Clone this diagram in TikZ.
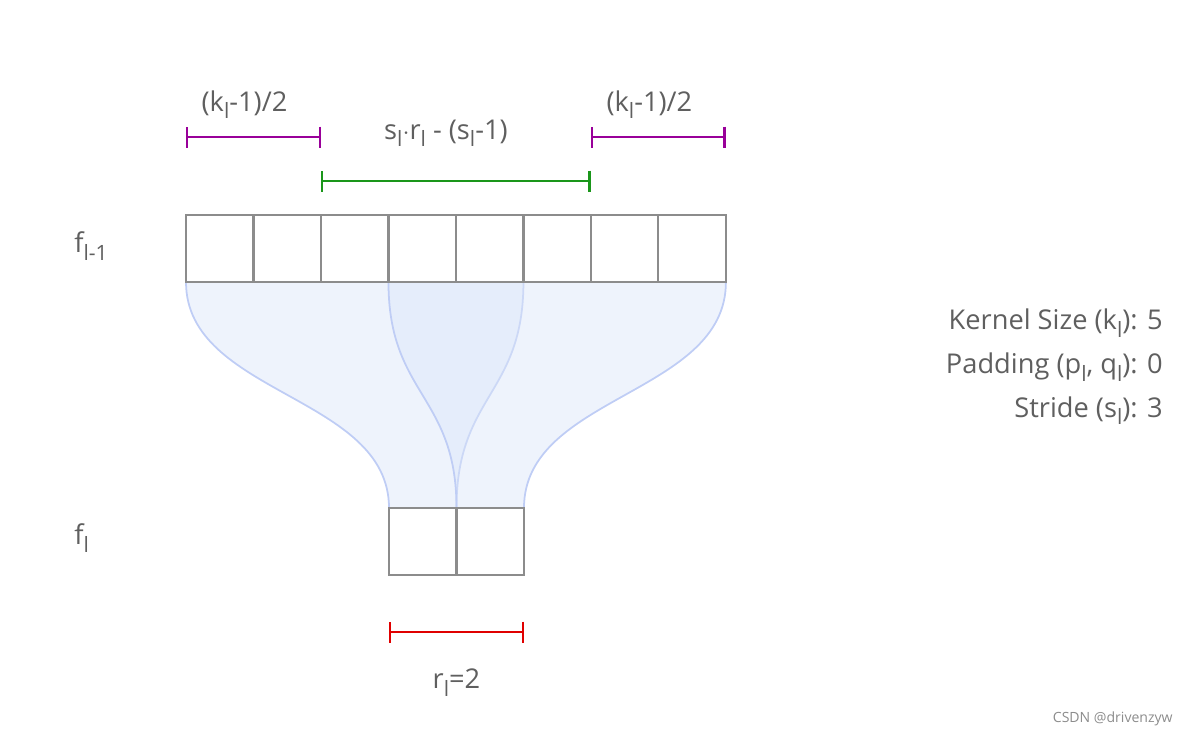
\documentclass[tikz,border=0pt]{standalone}
\usepackage{fontspec}
\setmainfont{Open Sans}
\usepackage{tikz}
\usetikzlibrary{arrows.meta,positioning,calc}
\usepackage{xcolor}
\definecolor{txtgrey}{HTML}{5F5F5F}
\definecolor{cellgrey}{HTML}{8C8C8C}
\definecolor{fieldfill}{RGB}{219,230,249}
\definecolor{fieldline}{HTML}{BFCDF5}
\definecolor{padcol}{HTML}{990099}
\definecolor{spancol}{HTML}{1A961A}
\definecolor{rcol}{HTML}{E00000}

% layer index as a lowered subscript
\newcommand{\lsub}[1]{\raisebox{-0.5ex}{\fontsize{12}{12}\selectfont #1}}

\tikzset{
    cell/.style={draw=cellgrey, fill=white, line width=1.2pt, minimum width=1.35cm,
        minimum height=1.34cm, inner sep=0pt, outer sep=0pt},
    field/.style={fill=fieldfill, fill opacity=0.47, draw=fieldline, line width=1pt},
    gauge/.style={line width=1.4pt, {Bar[width=0.42cm]}-{Bar[width=0.42cm]}},
    lbl/.style={text=txtgrey, inner sep=0pt, font=\fontsize{15.5}{18}\selectfont}
}

\begin{document}
\begin{tikzpicture}[x=0.02cm, y=-0.02cm]
    \useasboundingbox (0,0) rectangle (1189,735);

    % Input layer cells
    \node[cell] (c1) at (219.75,248.5) {};
    \foreach \i [remember=\i as \j (initially 1)] in {2,...,8} {
        \node[cell, right=0pt of c\j] (c\i) {};
    }

    % Output layer cells
    \node[cell] (b1) at (422.75,541.5) {};
    \node[cell, right=0pt of b1] (b2) {};

    % Receptive fields
    \filldraw[field] (c1.south west) .. controls +(0,113) and +(0,-113) .. (b1.north west)
        -- (b1.north east) .. controls +(0,-113) and +(0,113) .. (c5.south east) -- cycle;
    \filldraw[field] (c4.south west) .. controls +(0,113) and +(0,-113) .. (b2.north west)
        -- (b2.north east) .. controls +(0,-113) and +(0,113) .. (c8.south east) -- cycle;

    % Cell borders again, above the fields
    \foreach \i in {1,...,8} {
        \draw[cellgrey, line width=1.2pt] (c\i.north west) rectangle (c\i.south east);
    }
    \foreach \i in {1,2} {
        \draw[cellgrey, line width=1.2pt] (b\i.north west) rectangle (b\i.south east);
    }

    % Layer labels
    \node[lbl, anchor=west] (fin) at (74,246) {f\lsub{l-1}};
    \node[lbl, anchor=west] (fout) at (74,538) {f\lsub{l}};

    % Padding spans
    \draw[gauge, padcol] ($(c1.north west)+(0,-78)$) -- ($(c3.north west)+(0,-78)$)
        node[lbl, midway, above=0.34cm, xshift=-0.18cm] (padl) {(k\lsub{l}-1)/2};
    \draw[gauge, padcol] ($(c6.north east)+(0,-78)$) -- ($(c8.north east)+(0,-78)$)
        node[lbl, midway, above=0.34cm, xshift=-0.18cm] (padr) {(k\lsub{l}-1)/2};

    % Stride span
    \draw[gauge, spancol] ($(c3.north west)+(0,-34)$) -- ($(c6.north east)+(0,-34)$)
        node[lbl, midway, above=0.66cm, xshift=-0.2cm] (span) {s\lsub{l}$\cdot$r\lsub{l} - (s\lsub{l}-1)};

    % Output size
    \draw[gauge, rcol] ($(b1.south west)+(0,57)$) -- ($(b2.south east)+(0,57)$)
        node[lbl, midway, below=0.72cm] (rout) {r\lsub{l}=2};

    % Parameters
    \node[lbl, anchor=east, align=right, font=\fontsize{15.5}{25}\selectfont] (params) at (1163,367)
        {Kernel Size (k\lsub{l}): 5\\Padding (p\lsub{l}, q\lsub{l}): 0\\Stride (s\lsub{l}): 3};

    % Watermark
    \node[anchor=east, text=black!45, inner sep=0pt, font=\fontsize{8}{10}\selectfont] (mark) at (1173,719) {CSDN @drivenzyw};
\end{tikzpicture}
\end{document}
